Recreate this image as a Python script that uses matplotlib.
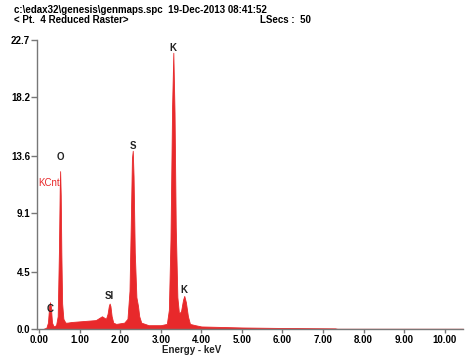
import numpy as np
import matplotlib
matplotlib.use("Agg")
import matplotlib.pyplot as plt

plt.rcParams["font.family"] = ["Liberation Sans", "DejaVu Sans"]

# spectrum outline (keV, KCnt)
energy = [0.10, 0.18, 0.22, 0.25, 0.27, 0.29, 0.32, 0.36, 0.42, 0.46, 0.49, 0.51, 0.52,
          0.535, 0.55, 0.57, 0.60, 0.65, 0.70, 0.80, 1.00, 1.20, 1.40, 1.50, 1.55, 1.60,
          1.65, 1.69, 1.72, 1.74, 1.76, 1.79, 1.83, 1.90, 2.00, 2.10, 2.18, 2.23, 2.26,
          2.29, 2.31, 2.33, 2.36, 2.40, 2.44, 2.47, 2.52, 2.70, 3.00, 3.15, 3.20, 3.24,
          3.28, 3.31, 3.34, 3.37, 3.41, 3.45, 3.50, 3.55, 3.58, 3.62, 3.67, 3.72, 3.85,
          4.00, 5.00, 6.00, 7.30, 7.35, 10.45]
counts = [0.0, 0.1, 0.5, 1.8, 2.1, 1.8, 0.5, 0.2, 0.3, 1.0, 6.0, 11.0, 12.4,
          10.5, 6.0, 2.0, 0.8, 0.5, 0.5, 0.55, 0.6, 0.65, 0.7, 0.9, 1.0, 0.9,
          0.8, 1.2, 1.8, 2.0, 1.8, 1.0, 0.5, 0.4, 0.45, 0.5, 0.8, 3.0, 8.0,
          13.4, 14.0, 12.0, 6.0, 2.5, 1.8, 1.0, 0.5, 0.3, 0.3, 0.4, 1.5, 7.0,
          17.5, 21.7, 17.0, 8.0, 2.5, 1.2, 1.4, 2.3, 2.6, 2.1, 1.0, 0.4, 0.3,
          0.2, 0.12, 0.08, 0.05, 0.02, 0.02]

peak_names = ["C", "O", "SI", "S", "K", "K"]
peak_e = [0.27, 0.52, 1.74, 2.31, 3.31, 3.58]
label_y = [1.6, 13.5, 2.6, 14.4, 22.1, 3.05]

yticks = [0.0, 4.5, 9.1, 13.6, 18.2, 22.7]
xticks = [0, 1, 2, 3, 4, 5, 6, 7, 8, 9, 10]

red = "#e8292b"
fig = plt.figure(figsize=(4.7, 3.58), dpi=100)
ax = fig.add_axes([37 / 470, 29 / 358, 426 / 470, 289 / 358])
ax.fill_between(energy, counts, 0, color=red, lw=0.6, edgecolor=red)

for n, e, y in zip(peak_names, peak_e, label_y):
    ax.text(e, y, n, ha="center", va="center", fontsize=7, fontweight="bold",
            color="#222222")

ax.set_xlim(-0.05, 10.45)
ax.set_ylim(0, 22.7)
ax.set_yticks(yticks)
ax.set_yticklabels([f"{v:.1f}" for v in yticks])
ax.set_xticks(xticks)
ax.set_xticklabels([f"{v:.2f}" for v in xticks])
for s in ["top", "right"]:
    ax.spines[s].set_visible(False)
for s in ["left", "bottom"]:
    ax.spines[s].set_color("#777777")
    ax.spines[s].set_linewidth(1.0)
ax.tick_params(colors="#777777", labelcolor="black", length=4, width=1.0, pad=1,
               labelsize=7)
ax.tick_params(axis="x", length=3)
for lab in ax.get_xticklabels() + ax.get_yticklabels():
    lab.set_fontweight("bold")

fig.text(192 / 470, 1 - 350 / 358, "Energy - keV", ha="center", va="center",
         fontsize=7, fontweight="bold", color="#222222")
fig.text(38 / 470, 1 - 183 / 358, "KCnt", ha="left", va="center", fontsize=7,
         color=red)
fig.text(14 / 470, 1 - 10 / 358, "c:\\edax32\\genesis\\genmaps.spc  19-Dec-2013 08:41:52",
         ha="left", va="center", fontsize=7, fontweight="bold")
fig.text(14 / 470, 1 - 20 / 358, "< Pt.  4 Reduced Raster>", ha="left", va="center",
         fontsize=7, fontweight="bold")
fig.text(260 / 470, 1 - 20 / 358, "LSecs :  50", ha="left", va="center", fontsize=7,
         fontweight="bold")

fig.savefig("out.png", dpi=100)
